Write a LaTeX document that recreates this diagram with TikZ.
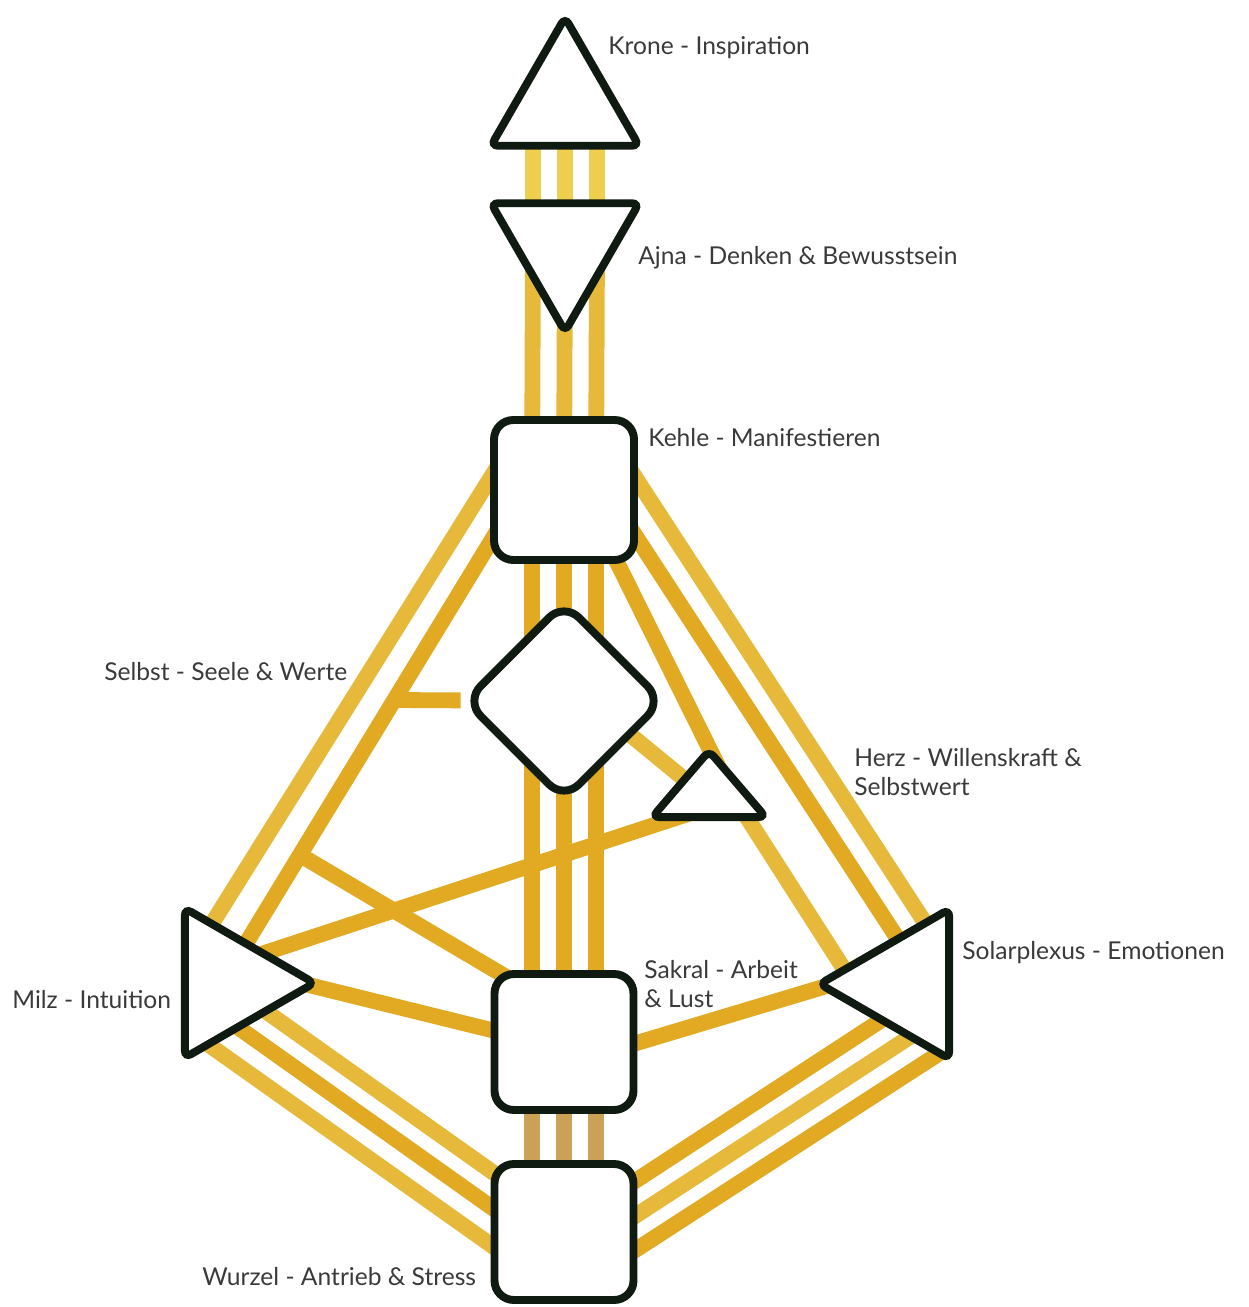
\documentclass[tikz,border=0pt]{standalone}
\usepackage{fontspec}
\setmainfont{Lato}
\usetikzlibrary{shapes.geometric,backgrounds,calc}
\definecolor{ink}{HTML}{0F1A10}
\definecolor{txtgray}{HTML}{3A3A3A}
\definecolor{gold}{HTML}{E1AA22}
\definecolor{goldmid}{HTML}{E7B93A}
\definecolor{goldlight}{HTML}{EFCD4E}
\definecolor{goldtan}{HTML}{CBA157}
\tikzset{
  zentrum/.style={draw=ink, line width=4.5pt, fill=white, inner sep=0pt},
  kanal/.style={line width=9pt, gold},
  beschr/.style={anchor=west, text=txtgray, align=left, inner sep=0pt,
    font=\fontsize{14}{17}\selectfont}
}

\begin{document}
\begin{tikzpicture}[x=0.02cm, y=-0.02cm]
    \useasboundingbox (0,0) rectangle (1248,1307);

    % centres
    \path (565,103) node[zentrum, regular polygon, regular polygon sides=3, minimum size=3.42cm, rounded corners=4pt] (krone) {};
    \path (565,246) node[zentrum, regular polygon, regular polygon sides=3, shape border rotate=180, minimum size=3.42cm, rounded corners=4pt] (ajna) {};
    \path (564,490) node[zentrum, rectangle, minimum width=2.8cm, minimum height=2.8cm, rounded corners=11pt] (kehle) {};
    \path (564,701) node[zentrum, diamond, aspect=1, minimum width=4.0cm, minimum height=4.0cm, rounded corners=12pt] (selbst) {};
    \path (709,795) node[zentrum, regular polygon, regular polygon sides=3, minimum size=2.62cm, yscale=0.674, transform shape, rounded corners=4pt] (herz) {};
    \path (228,983) node[zentrum, regular polygon, regular polygon sides=3, shape border rotate=-90, minimum size=3.45cm, rounded corners=4pt] (milz) {};
    \path (906,984) node[zentrum, regular polygon, regular polygon sides=3, shape border rotate=90, minimum size=3.45cm, rounded corners=4pt] (solar) {};
    \path (564,1042) node[zentrum, rectangle, minimum width=2.78cm, minimum height=2.72cm, rounded corners=11pt] (sakral) {};
    \path (564,1232) node[zentrum, rectangle, minimum width=2.78cm, minimum height=2.72cm, rounded corners=11pt] (wurzel) {};

    % labels
    \path (608,48) node[beschr] (kroneT) {Krone - Inspiration};
    \path (638,258) node[beschr] (ajnaT) {Ajna - Denken \& Bewusstsein};
    \path (648,438) node[beschr] (kehleT) {Kehle - Manifestieren};
    \path (104,672) node[beschr] (selbstT) {Selbst - Seele \& Werte};
    \path (854,772) node[beschr] (herzT) {Herz - Willenskraft \&\\Selbstwert};
    \path (12,1000) node[beschr] (milzT) {Milz - Intuition};
    \path (644,984) node[beschr] (sakralT) {Sakral - Arbeit\\\& Lust};
    \path (962,953) node[beschr] (solarT) {Solarplexus - Emotionen};
    \path (202,1277) node[beschr] (wurzelT) {Wurzel - Antrieb \& Stress};

    \coordinate (j10) at (395,700);
    \coordinate (j34) at (300,855);

    \begin{scope}[on background layer]
        % channels
        \foreach \dx in {-32,0,32} {
            \draw[kanal, goldlight] ($(krone)+(\dx,0)$) -- ($(ajna)+(\dx,0)$);
            \draw[kanal, goldmid] ($(ajna)+(\dx,0)$) -- ($(kehle)+(\dx,0)$);
            \draw[kanal] ($(kehle)+(\dx,0)$) -- ($(sakral)+(\dx,0)$);
            \draw[kanal, goldtan] ($(sakral)+(\dx,0)$) -- ($(wurzel)+(\dx,0)$);
        }
        \draw[kanal, goldmid] ($(kehle)+(-56,-40)$) -- ($(milz)+(-20,-53)$);
        \draw[kanal] ($(kehle)+(-54,20)$) -- ($(milz)+(14,-33)$);
        \draw[kanal] (selbst) -- (j10);
        \draw[kanal] (j34) -- ($(sakral)+(-34,-51)$);
        \draw[kanal, goldmid] ($(kehle)+(60,-30)$) -- ($(solar)+(27,-49)$);
        \draw[kanal] ($(kehle)+(56,22)$) -- ($(solar)+(-1,-34)$);
        \draw[kanal] ($(kehle)+(42,50)$) -- ($(herz)+(16,-15)$);
        \draw[kanal, goldmid] ($(selbst)+(36,9)$) -- ($(herz)+(-9,-3)$);
        \draw[kanal, goldmid] ($(herz)+(30,10)$) -- ($(solar)+(-55,-4)$);
        \draw[kanal] ($(sakral)+(36,12)$) -- ($(solar)+(-56,-5)$);
        \draw[kanal] ($(milz)+(12,-22)$) -- ($(herz)+(-9,15)$);
        \draw[kanal] ($(milz)+(32,-10)$) -- ($(sakral)+(-24,0)$);
        \draw[kanal, goldmid] ($(milz)+(12,10)$) -- ($(wurzel)+(-42,-39)$);
        \draw[kanal] ($(milz)+(-13,28)$) -- ($(wurzel)+(-42,-3)$);
        \draw[kanal, goldmid] ($(milz)+(-33,52)$) -- ($(wurzel)+(-42,35)$);
        \draw[kanal] ($(solar)+(-6,24)$) -- ($(wurzel)+(42,-32)$);
        \draw[kanal, goldmid] ($(solar)+(19,43)$) -- ($(wurzel)+(42,3)$);
        \draw[kanal] ($(solar)+(40,65)$) -- ($(wurzel)+(42,37)$);
    \end{scope}
\end{tikzpicture}
\end{document}
